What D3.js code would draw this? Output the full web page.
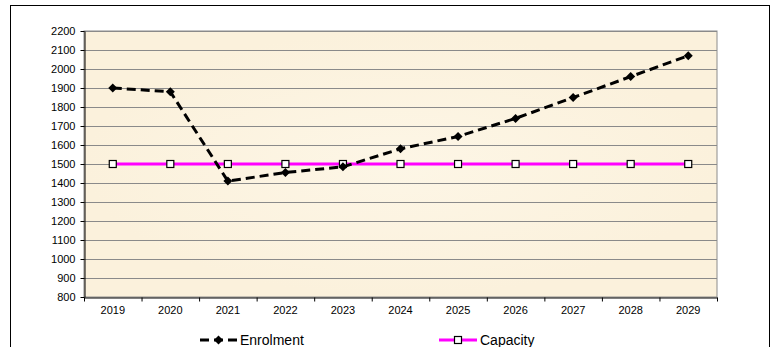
<!DOCTYPE html>
<html>
<head>
<meta charset="utf-8">
<script src="https://cdn.jsdelivr.net/npm/d3@7"></script>
<style>
  body { margin: 0; background: #fff; }
  svg { display: block; font-family: "Liberation Sans", Arial, sans-serif; }
</style>
</head>
<body>
<svg width="773" height="347"></svg>
<script>
const years = ['2019', '2020', '2021', '2022', '2023', '2024', '2025', '2026', '2027', '2028', '2029'];
const enrolment = [1900, 1880, 1410, 1455, 1485, 1580, 1645, 1740, 1850, 1960, 2070];
const capacity = [1500, 1500, 1500, 1500, 1500, 1500, 1500, 1500, 1500, 1500, 1500];
const yTicks = d3.range(800, 2201, 100);

const svg = d3.select('svg');
const font = '"Liberation Sans", Arial, sans-serif';

// chart frame
svg.append('rect')
  .attr('x', 10.5).attr('y', 5.5)
  .attr('width', 759).attr('height', 360)
  .attr('fill', '#fff').attr('stroke', '#000');

const m = { left: 84, top: 31, right: 717, bottom: 297 };

const x = d3.scaleBand().domain(years).range([m.left, m.right]);
const y = d3.scaleLinear().domain([800, 2200]).range([m.bottom, m.top]);

// parchment background
const defs = svg.append('defs');
const grad = defs.append('radialGradient').attr('id', 'bg');
grad.append('stop').attr('offset', '0%').attr('stop-color', '#fdf6e6');
grad.append('stop').attr('offset', '100%').attr('stop-color', '#fbf1dc');
svg.append('rect')
  .attr('x', m.left).attr('y', m.top)
  .attr('width', m.right - m.left).attr('height', m.bottom - m.top)
  .attr('fill', 'url(#bg)')
  .attr('stroke', '#8c8c8c');

// gridlines
svg.append('g')
  .selectAll('line')
  .data(yTicks.slice(1))
  .join('line')
  .attr('x1', m.left).attr('x2', m.right)
  .attr('y1', d => Math.round(y(d)) + 0.5).attr('y2', d => Math.round(y(d)) + 0.5)
  .attr('stroke', '#8a8a8a');

// y axis
const yAxis = svg.append('g')
  .attr('transform', `translate(${m.left + 0.5},0)`)
  .call(d3.axisLeft(y).tickValues(yTicks).tickFormat(d3.format('d')).tickSize(4).tickSizeOuter(0));
yAxis.select('.domain').attr('stroke', '#000');
yAxis.selectAll('text').attr('font-size', 11).attr('fill', '#000')
  .attr('font-family', font).attr('dx', -2);

// x axis
const xAxis = svg.append('g')
  .attr('transform', `translate(0,${m.bottom + 0.5})`)
  .call(d3.axisBottom(x).tickSize(0).tickSizeOuter(0));
xAxis.select('.domain').attr('stroke', '#000');
xAxis.selectAll('text').attr('font-size', 11).attr('fill', '#000')
  .attr('font-family', font).attr('dy', '1.25em');
xAxis.selectAll('.sep')
  .data(years.concat(['end']))
  .join('line')
  .attr('class', 'sep')
  .attr('x1', (d, i) => m.left + i * x.bandwidth() + 0.5)
  .attr('x2', (d, i) => m.left + i * x.bandwidth() + 0.5)
  .attr('y1', 0).attr('y2', 4)
  .attr('stroke', '#000');

const cx = d => x(d) + x.bandwidth() / 2;

// capacity
const capData = years.map((d, i) => [d, capacity[i]]);
svg.append('path')
  .datum(capData)
  .attr('fill', 'none')
  .attr('stroke', '#ff00ff')
  .attr('stroke-width', 3)
  .attr('d', d3.line().x(d => cx(d[0])).y(d => y(d[1])));
svg.append('g')
  .selectAll('rect')
  .data(capData)
  .join('rect')
  .attr('x', d => cx(d[0]) - 3.5).attr('y', d => y(d[1]) - 3.5)
  .attr('width', 7).attr('height', 7)
  .attr('fill', '#fff').attr('stroke', '#000').attr('stroke-width', 1.2);

// enrolment
const enrData = years.map((d, i) => [d, enrolment[i]]);
svg.append('path')
  .datum(enrData)
  .attr('fill', 'none')
  .attr('stroke', '#000')
  .attr('stroke-width', 3)
  .attr('stroke-dasharray', '9,5')
  .attr('d', d3.line().x(d => cx(d[0])).y(d => y(d[1])));
const diamond = 'M0,-4.5L4.5,0L0,4.5L-4.5,0Z';
svg.append('g')
  .selectAll('path')
  .data(enrData)
  .join('path')
  .attr('transform', d => `translate(${cx(d[0])},${y(d[1])})`)
  .attr('d', diamond)
  .attr('fill', '#000');

// legend
const legend = svg.append('g').attr('font-size', 14).attr('font-family', font);
const lg1 = legend.append('g').attr('transform', 'translate(200,340)');
lg1.append('line').attr('x1', 0).attr('x2', 37).attr('stroke', '#000')
  .attr('stroke-width', 3).attr('stroke-dasharray', '9,5');
lg1.append('path').attr('d', diamond).attr('transform', 'translate(18.5,0)');
lg1.append('text').attr('x', 40).attr('dy', '0.35em').text('Enrolment');

const lg2 = legend.append('g').attr('transform', 'translate(439,340)');
lg2.append('line').attr('x1', 0).attr('x2', 38).attr('stroke', '#ff00ff').attr('stroke-width', 3);
lg2.append('rect').attr('x', 15.5).attr('y', -3.5).attr('width', 7).attr('height', 7)
  .attr('fill', '#fff').attr('stroke', '#000').attr('stroke-width', 1.2);
lg2.append('text').attr('x', 41).attr('dy', '0.35em').text('Capacity');
</script>
</body>
</html>
